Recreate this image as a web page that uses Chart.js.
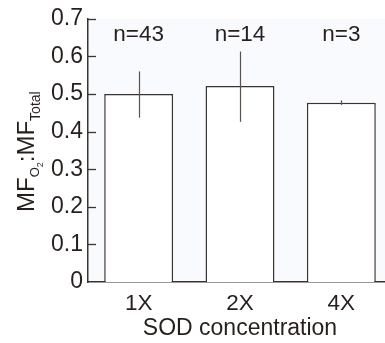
<!DOCTYPE html>
<html><head><meta charset="utf-8">
<script src="https://cdn.jsdelivr.net/npm/chart.js@4/dist/chart.umd.min.js"></script>
<style>
html,body{margin:0;padding:0;background:#fff;overflow:hidden;width:385px;height:343px}
#wrap{width:385px;height:343px;overflow:hidden;position:relative}
canvas{display:block}
</style></head><body>
<div id="wrap"><canvas id="c" width="392" height="343" style="width:392px;height:343px"></canvas></div>
<script>
// ---- data ----
const categories = ['1X', '2X', '4X'];
const ratios = [0.500, 0.521, 0.477];
const errLow = [0.437, 0.426, 0.471];
const errHigh = [0.560, 0.613, 0.483];
const sampleSizes = ['n=43', 'n=14', 'n=3'];
const yTickValues = [0, 0.1, 0.2, 0.3, 0.4, 0.5, 0.6, 0.7];
const yTickLabels = ['0', '0.1', '0.2', '0.3', '0.4', '0.5', '0.6', '0.7'];
const xTitle = 'SOD concentration';

const FONT = '"Liberation Sans", Arial, Helvetica, sans-serif';
const INK = '#261f1d';
const LINE = '#3b3330';

const deco = {
  id: 'deco',
  beforeDraw(chart) {
    const {ctx, chartArea: a} = chart;
    ctx.save();
    ctx.fillStyle = '#f8fafd';
    ctx.fillRect(a.left, a.top, chart.width - a.left, a.bottom - a.top);
    ctx.restore();
  },
  afterDatasetsDraw(chart) {
    const ctx = chart.ctx, y = chart.scales.y, a = chart.chartArea;
    const meta = chart.getDatasetMeta(0);
    ctx.save();
    // error bars
    ctx.strokeStyle = '#5a504c';
    ctx.lineWidth = 1.2;
    meta.data.forEach((bar, i) => {
      const x = Math.round(bar.x) + 0.5;
      ctx.beginPath();
      ctx.moveTo(x, y.getPixelForValue(errHigh[i]));
      ctx.lineTo(x, y.getPixelForValue(errLow[i]));
      ctx.stroke();
    });
    // inward ticks on y axis
    ctx.strokeStyle = LINE;
    ctx.lineWidth = 1.3;
    yTickValues.forEach(v => {
      if (v === 0) return;
      const py = Math.round(y.getPixelForValue(v)) + 0.5;
      ctx.beginPath();
      ctx.moveTo(a.left, py);
      ctx.lineTo(a.left + 8, py);
      ctx.stroke();
    });
    // n labels
    ctx.fillStyle = INK;
    ctx.font = '22.5px ' + FONT;
    ctx.textAlign = 'center';
    ctx.textBaseline = 'alphabetic';
    meta.data.forEach((bar, i) => {
      ctx.fillText(sampleSizes[i], bar.x, y.getPixelForValue(0.7) + 22);
    });
    // y axis title with subscripts
    ctx.translate(34, 212);
    ctx.rotate(-Math.PI / 2);
    ctx.textAlign = 'left';
    let x = 0;
    const put = (t, size, dy) => {
      ctx.font = size + 'px ' + FONT;
      ctx.fillText(t, x, dy);
      x += ctx.measureText(t).width;
    };
    put('MF', 24, 0);
    put('O', 13, 5);
    put('2', 9, 9);
    put(':', 24, 0);
    put('MF', 24, 0);
    put('Total', 14, 6);
    ctx.restore();
  }
};

new Chart(document.getElementById('c'), {
  type: 'bar',
  data: {
    labels: categories,
    datasets: [{
      data: ratios,
      backgroundColor: '#ffffff',
      borderColor: LINE,
      borderWidth: 1.5,
      borderSkipped: 'bottom',
      barPercentage: 0.68,
      categoryPercentage: 1.0
    }]
  },
  options: {
    responsive: false,
    animation: false,
    devicePixelRatio: 1,
    layout: {padding: {top: 16, left: 0, right: 0, bottom: 0}},
    plugins: {legend: {display: false}, tooltip: {enabled: false}},
    scales: {
      x: {
        grid: {display: false, drawTicks: false},
        border: {display: true, color: LINE, width: 1.5},
        ticks: {color: INK, font: {family: FONT, size: 22.5}, padding: 8},
        title: {display: true, text: xTitle, color: INK, font: {family: FONT, size: 23}, padding: {top: 0, bottom: 1}},
        afterFit(s) { s.height = 61; }
      },
      y: {
        min: 0, max: 0.7,
        afterBuildTicks(s) { s.ticks = yTickValues.map(v => ({value: v})); },
        grid: {display: false, drawTicks: false},
        border: {display: true, color: LINE, width: 1.5},
        ticks: {
          color: INK, font: {family: FONT, size: 23}, padding: 5,
          callback: (v, i) => yTickLabels[i]
        },
        afterFit(s) { s.width = 88; }
      }
    }
  },
  plugins: [deco]
});
</script>
</body></html>
